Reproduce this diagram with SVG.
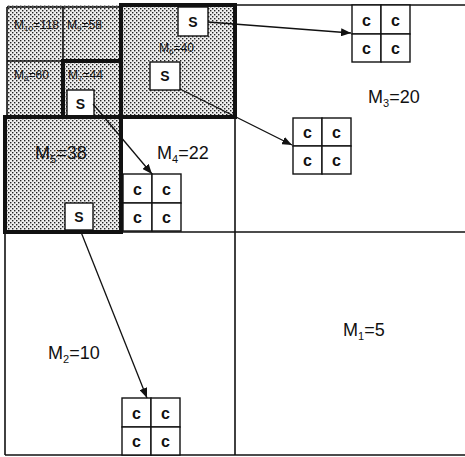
<svg xmlns="http://www.w3.org/2000/svg" width="465" height="457" viewBox="0 0 465 457">
<defs>
<pattern id="dots" patternUnits="userSpaceOnUse" width="4" height="4">
<rect width="4" height="4" fill="#efefef"/>
<rect x="0" y="0" width="1.4" height="1.4" fill="#222"/>
<rect x="2" y="2" width="1.4" height="1.4" fill="#222"/>
</pattern>
<marker id="ah" viewBox="0 0 10 8" refX="10" refY="4" markerWidth="10" markerHeight="8" markerUnits="userSpaceOnUse" orient="auto">
<path d="M0,0 L10,4 L0,8 Z" fill="#111"/>
</marker>
</defs>
<style>
.thin{stroke:#111;stroke-width:1.6;fill:none}
.thick{stroke:#111;stroke-width:4;fill:none;stroke-linecap:square}
.box{fill:#fff;stroke:#111;stroke-width:1.4}
.lab{font-family:"Liberation Sans",Arial,sans-serif;fill:#111}
.big{font-size:18px}
.sm{font-size:12px}
.cell{font-family:"Liberation Sans",Arial,sans-serif;font-size:16px;font-weight:bold;fill:#111;text-anchor:middle}
.s{font-family:"Liberation Sans",Arial,sans-serif;font-size:14px;font-weight:bold;fill:#111;text-anchor:middle}
.conn{stroke:#111;stroke-width:1.3;fill:none;marker-end:url(#ah)}
</style>
<rect width="465" height="457" fill="#fff"/>

<g id="shading">
<rect x="7" y="5" width="228" height="112" fill="url(#dots)"/>
<rect x="5" y="117" width="116" height="115" fill="url(#dots)"/>
</g>

<g id="frame">
<line class="thin" x1="5" y1="117" x2="5" y2="455"/>
<line class="thin" x1="235" y1="5" x2="465" y2="5"/>
<line class="thin" x1="5" y1="455" x2="465" y2="455"/>
<line class="thin" x1="235" y1="117" x2="235" y2="455"/>
<line class="thin" x1="121" y1="232" x2="465" y2="232"/>
<line class="thin" x1="7" y1="7" x2="121" y2="7"/>
<line class="thin" x1="7" y1="7" x2="7" y2="117"/>
<line class="thin" x1="63" y1="7" x2="63" y2="61"/>
<line class="thin" x1="7" y1="61" x2="63" y2="61"/>
</g>

<g id="M10"><text class="lab sm" x="14" y="29">M<tspan font-size="8" dy="2">10</tspan><tspan dy="-2">=118</tspan></text></g>
<g id="M9"><text class="lab sm" x="67" y="29">M<tspan font-size="8" dy="2">9</tspan><tspan dy="-2">=58</tspan></text></g>
<g id="M8"><text class="lab sm" x="14" y="79">M<tspan font-size="8" dy="2">8</tspan><tspan dy="-2">=60</tspan></text></g>
<g id="M7">
<path class="thick" d="M63,117 V61 H121"/>
<text class="lab sm" x="68" y="79">M<tspan font-size="8" dy="2">7</tspan><tspan dy="-2">=44</tspan></text>
<rect class="box" x="67" y="90" width="27" height="27"/>
<text class="s" x="80.5" y="109">S</text>
</g>
<g id="M6">
<rect class="thick" x="121" y="5" width="114" height="112"/>
<text class="lab sm" x="159" y="52">M<tspan font-size="8" dy="2">6</tspan><tspan dy="-2">=40</tspan></text>
<rect class="box" x="178" y="7" width="30" height="29"/>
<text class="s" x="193" y="27">S</text>
<rect class="box" x="150" y="62" width="30" height="28"/>
<text class="s" x="165" y="81">S</text>
</g>
<g id="M5">
<rect class="thick" x="5" y="117" width="116" height="115"/>
<text class="lab big" x="35" y="159">M<tspan font-size="11" dy="4">5</tspan><tspan dy="-4">=38</tspan></text>
<rect class="box" x="65" y="203" width="28" height="27"/>
<text class="s" x="79" y="222">S</text>
</g>
<g id="M4"><text class="lab big" x="157" y="159">M<tspan font-size="11" dy="4">4</tspan><tspan dy="-4">=22</tspan></text></g>
<g id="M3"><text class="lab big" x="368" y="103">M<tspan font-size="11" dy="4">3</tspan><tspan dy="-4">=20</tspan></text></g>
<g id="M2"><text class="lab big" x="48" y="359">M<tspan font-size="11" dy="4">2</tspan><tspan dy="-4">=10</tspan></text></g>
<g id="M1"><text class="lab big" x="343" y="336">M<tspan font-size="11" dy="4">1</tspan><tspan dy="-4">=5</tspan></text></g>

<g id="gridA">
<rect class="box" x="352" y="5" width="29" height="29"/><rect class="box" x="381" y="5" width="29" height="29"/>
<rect class="box" x="352" y="34" width="29" height="28"/><rect class="box" x="381" y="34" width="29" height="28"/>
<text class="cell" x="366.5" y="26">c</text><text class="cell" x="395.5" y="26">c</text>
<text class="cell" x="366.5" y="54">c</text><text class="cell" x="395.5" y="54">c</text>
</g>
<g id="gridB">
<rect class="box" x="293" y="118" width="29" height="28"/><rect class="box" x="322" y="118" width="29" height="28"/>
<rect class="box" x="293" y="146" width="29" height="28"/><rect class="box" x="322" y="146" width="29" height="28"/>
<text class="cell" x="307.5" y="138">c</text><text class="cell" x="336.5" y="138">c</text>
<text class="cell" x="307.5" y="166">c</text><text class="cell" x="336.5" y="166">c</text>
</g>
<g id="gridC">
<rect class="box" x="123" y="174" width="29" height="29"/><rect class="box" x="152" y="174" width="29" height="29"/>
<rect class="box" x="123" y="203" width="29" height="28"/><rect class="box" x="152" y="203" width="29" height="28"/>
<text class="cell" x="137.5" y="195">c</text><text class="cell" x="166.5" y="195">c</text>
<text class="cell" x="137.5" y="223">c</text><text class="cell" x="166.5" y="223">c</text>
</g>
<g id="gridD">
<rect class="box" x="122" y="398" width="29" height="29"/><rect class="box" x="151" y="398" width="29" height="29"/>
<rect class="box" x="122" y="427" width="29" height="28"/><rect class="box" x="151" y="427" width="29" height="28"/>
<text class="cell" x="136.5" y="419">c</text><text class="cell" x="165.5" y="419">c</text>
<text class="cell" x="136.5" y="447">c</text><text class="cell" x="165.5" y="447">c</text>
</g>

<g id="connectors">
<line class="conn" x1="208" y1="22" x2="351" y2="33"/>
<line class="conn" x1="180" y1="89" x2="292" y2="145"/>
<line class="conn" x1="93" y1="104" x2="152" y2="174"/>
<line class="conn" x1="81" y1="232" x2="147" y2="398"/>
</g>
</svg>
